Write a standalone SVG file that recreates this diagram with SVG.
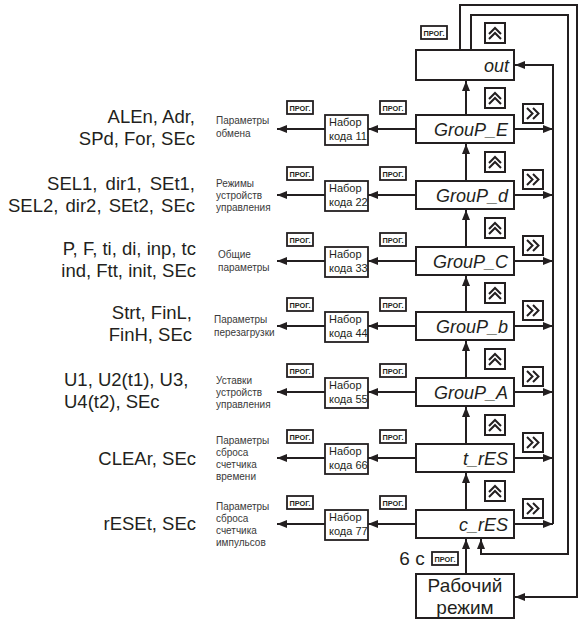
<svg xmlns="http://www.w3.org/2000/svg" xmlns:xlink="http://www.w3.org/1999/xlink" width="579" height="620" viewBox="0 0 579 620">
<style>
.bx{fill:#fff;stroke:#231f20;stroke-width:2}
.ln{fill:none;stroke:#231f20;stroke-width:2}
.seg{font-family:"Liberation Sans",Arial,sans-serif;font-style:italic;font-size:18px;fill:#231f20;text-anchor:end}
.big{font-family:"Liberation Sans",Arial,sans-serif;font-size:18.5px;fill:#231f20;text-anchor:end}
.bigl{font-family:"Liberation Sans",Arial,sans-serif;font-size:18.5px;fill:#231f20}
.dsc{font-family:"Liberation Sans",Arial,sans-serif;font-size:10px;fill:#3a3a3a}
.nab{font-family:"Liberation Sans",Arial,sans-serif;font-size:11px;fill:#231f20}
.prg{font-family:"Liberation Sans",Arial,sans-serif;font-size:7.5px;font-weight:bold;fill:#231f20}
.rab{font-family:"Liberation Sans",Arial,sans-serif;font-size:19px;fill:#231f20;text-anchor:middle}
</style>
<defs>
<marker id="ah" markerWidth="10" markerHeight="8" refX="10" refY="4" orient="auto" markerUnits="userSpaceOnUse"><path d="M0,0 L10,4 L0,8 z" fill="#231f20"/></marker>
<symbol id="prog" overflow="visible"><rect x="0" y="0" width="26" height="13" fill="#fff" stroke="#231f20" stroke-width="1.8"/><text class="prg" x="2.5" y="9.5" textLength="21" lengthAdjust="spacingAndGlyphs">ПРОГ.</text></symbol>
<symbol id="up" overflow="visible"><rect x="0" y="0" width="20" height="20" fill="#fff" stroke="#231f20" stroke-width="2"/><polyline points="4,11 10,5 16,11" fill="none" stroke="#231f20" stroke-width="2"/><polyline points="4,16 10,10 16,16" fill="none" stroke="#231f20" stroke-width="2"/></symbol>
<symbol id="rt" overflow="visible"><rect x="0" y="0" width="20" height="19" fill="#fff" stroke="#231f20" stroke-width="2"/><polyline points="4,4 9.5,9.5 4,15" fill="none" stroke="#231f20" stroke-width="2"/><polyline points="10,4 15.5,9.5 10,15" fill="none" stroke="#231f20" stroke-width="2"/></symbol>
</defs>

<g id="connectors">
<path class="ln" d="M553,524 V65 H515" marker-end="url(#ah)"/>
<path class="ln" d="M471,51 V15 H568 V554 H481 V539" marker-end="url(#ah)"/>
<path class="ln" d="M460,51 V5 H577 V597 H515" marker-end="url(#ah)"/>
<path class="ln" d="M466,574 V539" marker-end="url(#ah)"/>
<path class="ln" d="M466,115 V81" marker-end="url(#ah)"/>
<path class="ln" d="M466,181 V144" marker-end="url(#ah)"/>
<path class="ln" d="M466,247 V210" marker-end="url(#ah)"/>
<path class="ln" d="M466,312 V276" marker-end="url(#ah)"/>
<path class="ln" d="M466,378 V341" marker-end="url(#ah)"/>
<path class="ln" d="M466,444 V407" marker-end="url(#ah)"/>
<path class="ln" d="M466,510 V473" marker-end="url(#ah)"/>
<path class="ln" d="M514,129 H553" marker-end="url(#ah)"/>
<path class="ln" d="M514,195 H553" marker-end="url(#ah)"/>
<path class="ln" d="M514,261 H553" marker-end="url(#ah)"/>
<path class="ln" d="M514,326 H553" marker-end="url(#ah)"/>
<path class="ln" d="M514,392 H553" marker-end="url(#ah)"/>
<path class="ln" d="M514,458 H553" marker-end="url(#ah)"/>
<path class="ln" d="M514,524 H553" marker-end="url(#ah)"/>
<path class="ln" d="M416,129 H368" marker-end="url(#ah)"/>
<path class="ln" d="M416,195 H368" marker-end="url(#ah)"/>
<path class="ln" d="M416,261 H368" marker-end="url(#ah)"/>
<path class="ln" d="M416,326 H368" marker-end="url(#ah)"/>
<path class="ln" d="M416,392 H368" marker-end="url(#ah)"/>
<path class="ln" d="M416,458 H368" marker-end="url(#ah)"/>
<path class="ln" d="M416,524 H368" marker-end="url(#ah)"/>
<path class="ln" d="M325,129 H277" marker-end="url(#ah)"/>
<path class="ln" d="M325,195 H277" marker-end="url(#ah)"/>
<path class="ln" d="M325,261 H277" marker-end="url(#ah)"/>
<path class="ln" d="M325,326 H277" marker-end="url(#ah)"/>
<path class="ln" d="M325,392 H277" marker-end="url(#ah)"/>
<path class="ln" d="M325,458 H277" marker-end="url(#ah)"/>
<path class="ln" d="M325,524 H277" marker-end="url(#ah)"/>
</g>

<g id="icons">
<use xlink:href="#prog" x="421" y="26"/>
<use xlink:href="#up" x="485" y="23"/>
<use xlink:href="#up" x="485" y="88"/>
<use xlink:href="#up" x="485" y="152"/>
<use xlink:href="#up" x="485" y="218"/>
<use xlink:href="#up" x="485" y="283"/>
<use xlink:href="#up" x="485" y="349"/>
<use xlink:href="#up" x="485" y="415"/>
<use xlink:href="#up" x="485" y="481"/>
<use xlink:href="#rt" x="523" y="104"/>
<use xlink:href="#rt" x="523" y="170"/>
<use xlink:href="#rt" x="523" y="236"/>
<use xlink:href="#rt" x="523" y="301"/>
<use xlink:href="#rt" x="523" y="367"/>
<use xlink:href="#rt" x="523" y="433"/>
<use xlink:href="#rt" x="523" y="499"/>
<use xlink:href="#prog" x="287" y="101"/><use xlink:href="#prog" x="380" y="101"/>
<use xlink:href="#prog" x="287" y="167"/><use xlink:href="#prog" x="380" y="167"/>
<use xlink:href="#prog" x="287" y="233"/><use xlink:href="#prog" x="380" y="233"/>
<use xlink:href="#prog" x="287" y="298"/><use xlink:href="#prog" x="380" y="298"/>
<use xlink:href="#prog" x="287" y="364"/><use xlink:href="#prog" x="380" y="364"/>
<use xlink:href="#prog" x="287" y="430"/><use xlink:href="#prog" x="380" y="430"/>
<use xlink:href="#prog" x="287" y="496"/><use xlink:href="#prog" x="380" y="496"/>
<use xlink:href="#prog" x="432" y="552"/>
<text class="rab" x="412" y="565" style="font-size:19px">6 с</text>
</g>

<g id="out"><rect class="bx" x="416" y="50" width="98" height="30"/><text class="seg" x="509" y="72">out</text></g>
<g id="groupE"><rect class="bx" x="416" y="115" width="98" height="28"/><text class="seg" x="508" y="135.5">GrouP_E</text></g>
<g id="groupd"><rect class="bx" x="416" y="181" width="98" height="28"/><text class="seg" x="508" y="201.5">GrouP_d</text></g>
<g id="groupC"><rect class="bx" x="416" y="247" width="98" height="28"/><text class="seg" x="508" y="267.5">GrouP_C</text></g>
<g id="groupb"><rect class="bx" x="416" y="312" width="98" height="28"/><text class="seg" x="508" y="332.5">GrouP_b</text></g>
<g id="groupA"><rect class="bx" x="416" y="378" width="98" height="28"/><text class="seg" x="508" y="398.5">GrouP_A</text></g>
<g id="tres"><rect class="bx" x="416" y="444" width="98" height="28"/><text class="seg" x="508" y="464.5">t_rES</text></g>
<g id="cres"><rect class="bx" x="416" y="510" width="98" height="28"/><text class="seg" x="508" y="530.5">c_rES</text></g>
<g id="rabochiy"><rect class="bx" x="416" y="574" width="98" height="44"/><text class="rab" x="465" y="592">Рабочий</text><text class="rab" x="465" y="614">режим</text></g>

<g id="nabor11"><rect class="bx" x="325" y="115" width="43" height="30" style="stroke-width:1.8"/><text class="nab" x="329" y="126">Набор</text><text class="nab" x="329" y="140">кода 11</text></g>
<g id="nabor22"><rect class="bx" x="325" y="181" width="43" height="30" style="stroke-width:1.8"/><text class="nab" x="329" y="192">Набор</text><text class="nab" x="329" y="206">кода 22</text></g>
<g id="nabor33"><rect class="bx" x="325" y="247" width="43" height="30" style="stroke-width:1.8"/><text class="nab" x="329" y="258">Набор</text><text class="nab" x="329" y="272">кода 33</text></g>
<g id="nabor44"><rect class="bx" x="325" y="312" width="43" height="30" style="stroke-width:1.8"/><text class="nab" x="329" y="323">Набор</text><text class="nab" x="329" y="337">кода 44</text></g>
<g id="nabor55"><rect class="bx" x="325" y="378" width="43" height="30" style="stroke-width:1.8"/><text class="nab" x="329" y="389">Набор</text><text class="nab" x="329" y="403">кода 55</text></g>
<g id="nabor66"><rect class="bx" x="325" y="444" width="43" height="30" style="stroke-width:1.8"/><text class="nab" x="329" y="455">Набор</text><text class="nab" x="329" y="469">кода 66</text></g>
<g id="nabor77"><rect class="bx" x="325" y="510" width="43" height="30" style="stroke-width:1.8"/><text class="nab" x="329" y="521">Набор</text><text class="nab" x="329" y="535">кода 77</text></g>

<g id="descE"><text class="dsc" x="216" y="124">Параметры</text><text class="dsc" x="216" y="137">обмена</text></g>
<g id="descd"><text class="dsc" x="216" y="187">Режимы</text><text class="dsc" x="216" y="199">устройств</text><text class="dsc" x="216" y="211">управления</text></g>
<g id="descC"><text class="dsc" x="218" y="258">Общие</text><text class="dsc" x="218" y="271">параметры</text></g>
<g id="descb"><text class="dsc" x="214" y="323">Параметры</text><text class="dsc" x="214" y="336">перезагрузки</text></g>
<g id="descA"><text class="dsc" x="216" y="384">Уставки</text><text class="dsc" x="216" y="396">устройств</text><text class="dsc" x="216" y="408">управления</text></g>
<g id="desct"><text class="dsc" x="216" y="444">Параметры</text><text class="dsc" x="216" y="456">сброса</text><text class="dsc" x="216" y="468">счетчика</text><text class="dsc" x="216" y="480">времени</text></g>
<g id="descc"><text class="dsc" x="216" y="510">Параметры</text><text class="dsc" x="216" y="522">сброса</text><text class="dsc" x="216" y="534">счетчика</text><text class="dsc" x="216" y="546">импульсов</text></g>

<g id="paramsE"><text class="big" x="195" y="123">ALEn, Adr,</text><text class="big" x="195" y="145">SPd, For, SEc</text></g>
<g id="paramsd"><text class="big" x="195" y="190" style="word-spacing:3px">SEL1, dir1, SEt1,</text><text class="big" x="195" y="212" style="word-spacing:2px">SEL2, dir2, SEt2, SEc</text></g>
<g id="paramsC"><text class="big" x="196" y="255">P, F, ti, di, inp, tc</text><text class="big" x="196" y="277">ind, Ftt, init, SEc</text></g>
<g id="paramsb"><text class="big" x="192" y="319">Strt, FinL,</text><text class="big" x="192" y="341">FinH, SEc</text></g>
<g id="paramsA"><text class="bigl" x="64" y="386">U1, U2(t1), U3,</text><text class="bigl" x="64" y="408">U4(t2), SEc</text></g>
<g id="paramst"><text class="big" x="196" y="465">CLEAr, SEc</text></g>
<g id="paramsc"><text class="big" x="196" y="530">rESEt, SEc</text></g>
</svg>
